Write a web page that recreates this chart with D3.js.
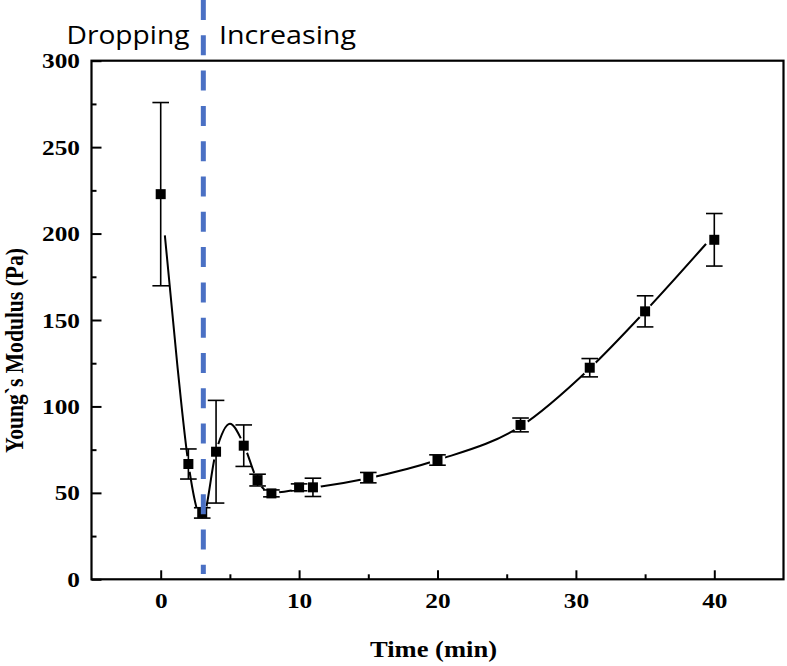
<!DOCTYPE html>
<html>
<head>
<meta charset="utf-8">
<script src="https://cdn.jsdelivr.net/npm/d3@7"></script>
<style>
  html, body { margin: 0; padding: 0; background: #fff; }
  svg { display: block; }
</style>
</head>
<body>
<svg id="chart" width="787" height="666"></svg>
<script>
// ---- data ----
const times   = [0, 2, 3, 4, 6, 7, 8, 10, 11, 15, 20, 26, 31, 35, 40];
const modulus = [222.8, 66.7, 38.4, 73.8, 77.3, 57.4, 49.7, 53.2, 53.2, 58.8, 69, 89.3, 122.4, 155, 196.4];
const errors  = [53, 8.7, 3, 29.7, 12, 3.4, 2, 2, 5.3, 3, 3, 4, 5.3, 9, 15.2];
// smooth fitted curve as drawn in the reference
const fitTimes  = [0.3, 1.2, 2, 3, 4, 5, 6, 7, 8, 10, 11, 15, 20, 26, 31, 35, 39.4];
const fitValues = [199, 124, 67, 35, 74, 90, 78, 57, 50, 52, 53, 58.5, 69, 88.5, 122, 155, 194];
const xMajorTicks = [0, 10, 20, 30, 40];
const xMinorTicks = [5, 15, 25, 35];
const yMajorTicks = [0, 50, 100, 150, 200, 250, 300];
const yMinorTicks = [25, 75, 125, 175, 225, 275];
const boundaryTime = 3.08;
const phaseLabels = ["Dropping", "Increasing"];
const xTitle = "Time (min)";
const yTitle = "Young`s Modulus (Pa)";

(function () {
// ---- layout ----
const svg = d3.select("#chart");
const pLeft = 91.5, pRight = 783.5, pTop = 60.7, pBottom = 579.3;
const x = d3.scaleLinear().domain([-5, 45]).range([pLeft, pRight]);
const y = d3.scaleLinear().domain([0, 300]).range([pBottom, pTop]);
const serif = "'Liberation Serif', 'Times New Roman', serif";
const stretch = 1.15;

function widen(sel, factor) {
  sel.each(function() {
    const w = this.getComputedTextLength();
    d3.select(this).attr("textLength", w * factor).attr("lengthAdjust", "spacingAndGlyphs");
  });
}

// fitted curve
const fitData = fitTimes.map((t, i) => [t, fitValues[i]]);
svg.append("path")
  .datum(fitData)
  .attr("fill", "none")
  .attr("stroke", "#000")
  .attr("stroke-width", 2)
  .attr("d", d3.line().x(d => x(d[0])).y(d => y(d[1])).curve(d3.curveMonotoneX));

const pts = times.map((t, i) => ({ t, v: modulus[i], e: errors[i] }));

// gaps around the symbols
svg.append("g").selectAll("circle").data(pts).join("circle")
  .attr("cx", d => x(d.t)).attr("cy", d => y(d.v)).attr("r", 8)
  .attr("fill", "#fff");

// error bars
const eb = svg.append("g").attr("stroke", "#000").attr("stroke-width", 1.6);
eb.selectAll("line.v").data(pts).join("line").attr("class", "v")
  .attr("x1", d => x(d.t)).attr("x2", d => x(d.t))
  .attr("y1", d => y(d.v + d.e)).attr("y2", d => y(d.v - d.e));
eb.selectAll("line.top").data(pts).join("line").attr("class", "top")
  .attr("x1", d => x(d.t) - 8.3).attr("x2", d => x(d.t) + 8.3)
  .attr("y1", d => y(d.v + d.e)).attr("y2", d => y(d.v + d.e));
eb.selectAll("line.bot").data(pts).join("line").attr("class", "bot")
  .attr("x1", d => x(d.t) - 8.3).attr("x2", d => x(d.t) + 8.3)
  .attr("y1", d => y(d.v - d.e)).attr("y2", d => y(d.v - d.e));

// markers
svg.append("g").selectAll("rect").data(pts).join("rect")
  .attr("x", d => x(d.t) - 5).attr("y", d => y(d.v) - 5)
  .attr("width", 10).attr("height", 10).attr("fill", "#000");

// blue dashed boundary
svg.append("line")
  .attr("x1", x(boundaryTime)).attr("x2", x(boundaryTime))
  .attr("y1", 0).attr("y2", y(3))
  .attr("stroke", "#4A70C4").attr("stroke-width", 5)
  .attr("stroke-dasharray", "20,15.3");

// phase labels
const sans = "'Open Sans', 'Noto Sans', sans-serif";
svg.append("text").attr("x", 66.5).attr("y", 43.5)
  .attr("font-family", sans).attr("font-size", 25).attr("fill", "#000")
  .attr("textLength", 123).attr("lengthAdjust", "spacingAndGlyphs")
  .text(phaseLabels[0]);
svg.append("text").attr("x", 219).attr("y", 43.5)
  .attr("font-family", sans).attr("font-size", 25).attr("fill", "#000")
  .attr("textLength", 137).attr("lengthAdjust", "spacingAndGlyphs")
  .text(phaseLabels[1]);

// axes
const xAxis = svg.append("g").attr("transform", `translate(0,${pBottom})`)
  .call(d3.axisBottom(x).tickValues(xMajorTicks).tickSizeInner(-9).tickSizeOuter(0).tickPadding(12.9));
const xMinor = svg.append("g").attr("transform", `translate(0,${pBottom})`)
  .call(d3.axisBottom(x).tickValues(xMinorTicks).tickSizeInner(-5).tickSizeOuter(0).tickFormat(""));
const yAxis = svg.append("g").attr("transform", `translate(${pLeft},0)`)
  .call(d3.axisLeft(y).tickValues(yMajorTicks).tickSizeInner(-10).tickSizeOuter(0).tickPadding(11.5));
const yMinor = svg.append("g").attr("transform", `translate(${pLeft},0)`)
  .call(d3.axisLeft(y).tickValues(yMinorTicks).tickSizeInner(-5).tickSizeOuter(0).tickFormat(""));

[xAxis, xMinor, yAxis, yMinor].forEach(g => {
  g.select(".domain").remove();
  g.selectAll(".tick line").attr("stroke", "#000").attr("stroke-width", 2);
  g.selectAll("text").attr("font-family", serif).attr("font-weight", "bold")
    .attr("font-size", 22).attr("fill", "#000");
});
widen(xAxis.selectAll("text"), stretch);
widen(yAxis.selectAll("text"), stretch);

// frame
svg.append("rect")
  .attr("x", pLeft).attr("y", pTop)
  .attr("width", pRight - pLeft).attr("height", pBottom - pTop)
  .attr("fill", "none").attr("stroke", "#000").attr("stroke-width", 2.2);

// axis titles
svg.append("text")
  .attr("x", 433.5).attr("y", 657)
  .attr("text-anchor", "middle")
  .attr("font-family", serif).attr("font-weight", "bold").attr("font-size", 23)
  .attr("textLength", 127).attr("lengthAdjust", "spacingAndGlyphs")
  .text(xTitle);
svg.append("text")
  .attr("transform", `translate(23,350.5) rotate(-90)`)
  .attr("text-anchor", "middle")
  .attr("font-family", serif).attr("font-weight", "bold").attr("font-size", 25)
  .attr("textLength", 205).attr("lengthAdjust", "spacingAndGlyphs")
  .text(yTitle);
})();
</script>
</body>
</html>
